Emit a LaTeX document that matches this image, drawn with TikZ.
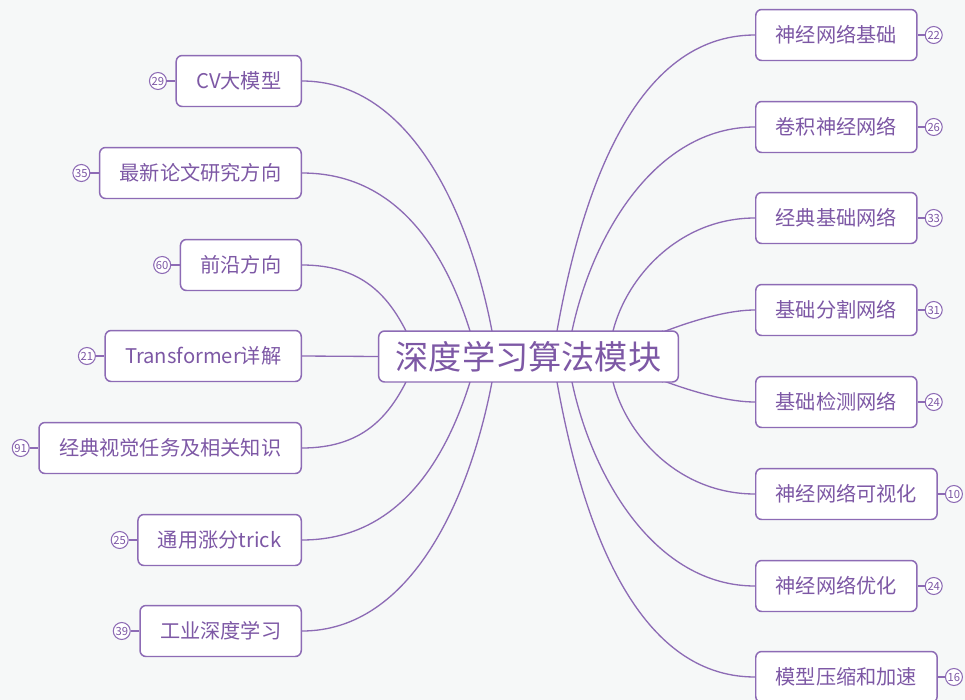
\documentclass[tikz,border=0pt]{standalone}
\usepackage{fontspec}
\setmainfont{Noto Sans CJK SC}
\usepackage{xcolor}
\usetikzlibrary{positioning}

\definecolor{bgcol}{RGB}{246,248,248}
\definecolor{linecol}{RGB}{141,107,181}
\definecolor{textcol}{RGB}{125,88,165}

\begin{document}
\begin{tikzpicture}[x=0.02cm, y=-0.02cm, node distance=0.17cm]

		% Define styles
		\tikzstyle{root} = [rectangle, rounded corners=0.12cm, draw=linecol, line width=0.85pt, fill=white, text=textcol, font=\fontsize{18.9}{20}\selectfont, inner xsep=0.34cm, minimum height=1.02cm]
		\tikzstyle{leaf} = [rectangle, rounded corners=0.12cm, draw=linecol, line width=0.85pt, fill=white, text=textcol, font=\fontsize{11.5}{13}\selectfont, inner xsep=0.4cm, minimum height=1.02cm]
		\tikzstyle{count} = [circle, draw=linecol, line width=0.6pt, fill=white, text=textcol, font=\fontsize{6.4}{7}\selectfont, inner sep=0pt, minimum size=0.34cm]
		\tikzstyle{link} = [draw=linecol, line width=0.75pt]

		% Background
		\fill[bgcol] (0,0) rectangle (965,700);
		\useasboundingbox (0,0) rectangle (965,700);

		% Connectors ends on the root
		\coordinate (tl1) at (492,331);
		\coordinate (tl2) at (470,331);
		\coordinate (tl3) at (406,331);
		\coordinate (bl1) at (406,382);
		\coordinate (bl2) at (470,382);
		\coordinate (bl3) at (492,382);
		\coordinate (tr1) at (557,331);
		\coordinate (tr2) at (572,331);
		\coordinate (tr3) at (613,331);
		\coordinate (tr4) at (663,331);
		\coordinate (br4) at (663,382);
		\coordinate (br3) at (613,382);
		\coordinate (br2) at (572,382);
		\coordinate (br1) at (557,382);

		% Left nodes
		\node[leaf, anchor=east] (cv) at (302,81) {CV大模型};
		\node[leaf, anchor=east] (paper) at (302,173) {最新论文研究方向};
		\node[leaf, anchor=east] (front) at (302,265) {前沿方向};
		\node[leaf, anchor=east] (trans) at (302,356) {Transformer详解};
		\node[leaf, anchor=east] (vision) at (302,448) {经典视觉任务及相关知识};
		\node[leaf, anchor=east] (trick) at (302,540) {通用涨分trick};
		\node[leaf, anchor=east] (indus) at (302,631) {工业深度学习};

		% Right nodes
		\node[leaf, anchor=west] (basic) at (755,35) {神经网络基础};
		\node[leaf, anchor=west] (cnn) at (755,127) {卷积神经网络};
		\node[leaf, anchor=west] (classic) at (755,218) {经典基础网络};
		\node[leaf, anchor=west] (seg) at (755,310) {基础分割网络};
		\node[leaf, anchor=west] (det) at (755,402) {基础检测网络};
		\node[leaf, anchor=west] (vis) at (755,494) {神经网络可视化};
		\node[leaf, anchor=west] (opt) at (755,586) {神经网络优化};
		\node[leaf, anchor=west] (comp) at (755,677) {模型压缩和加速};

		% Counts
		\node[count, left=of cv] (cv-n) {29};
		\node[count, left=of paper] (paper-n) {35};
		\node[count, left=of front] (front-n) {60};
		\node[count, left=of trans] (trans-n) {21};
		\node[count, left=of vision] (vision-n) {91};
		\node[count, left=of trick] (trick-n) {25};
		\node[count, left=of indus] (indus-n) {39};
		\node[count, right=0.14cm of basic] (basic-n) {22};
		\node[count, right=0.14cm of cnn] (cnn-n) {26};
		\node[count, right=0.14cm of classic] (classic-n) {33};
		\node[count, right=0.14cm of seg] (seg-n) {31};
		\node[count, right=0.14cm of det] (det-n) {24};
		\node[count, right=0.14cm of vis] (vis-n) {10};
		\node[count, right=0.14cm of opt] (opt-n) {24};
		\node[count, right=0.14cm of comp] (comp-n) {16};

		\foreach \n in {cv, paper, front, trans, vision, trick, indus, basic, cnn, classic, seg, det, vis, opt, comp}
			\draw[link, line width=0.6pt] (\n-n) -- (\n);

		% Links
		\draw[link] (cv.east) .. controls +(110,0) and +(-22,-115) .. (tl1);
		\draw[link] (paper.east) .. controls +(95,0) and +(-25,-80) .. (tl2);
		\draw[link] (front.east) .. controls +(60,0) and +(-18,-35) .. (tl3);
		\draw[link] (vision.east) .. controls +(60,0) and +(-18,35) .. (bl1);
		\draw[link] (trick.east) .. controls +(95,0) and +(-25,80) .. (bl2);
		\draw[link] (indus.east) .. controls +(110,0) and +(-22,115) .. (bl3);

		\draw[link] (basic.west) .. controls +(-120,0) and +(25,-140) .. (tr1);
		\draw[link] (cnn.west) .. controls +(-100,0) and +(20,-95) .. (tr2);
		\draw[link] (classic.west) .. controls +(-75,0) and +(14,-55) .. (tr3);
		\draw[link] (seg.west) .. controls +(-50,0) and +(-30,15) .. (tr4);
		\draw[link] (det.west) .. controls +(-50,0) and +(-30,-15) .. (br4);
		\draw[link] (vis.west) .. controls +(-75,0) and +(14,55) .. (br3);
		\draw[link] (opt.west) .. controls +(-100,0) and +(20,95) .. (br2);
		\draw[link] (comp.west) .. controls +(-120,0) and +(25,140) .. (br1);

		% Root
		\node[root] (root) at (528.5,356.5) {深度学习算法模块};
		\draw[link] (trans.east) -- (root.west);

\end{tikzpicture}
\end{document}
